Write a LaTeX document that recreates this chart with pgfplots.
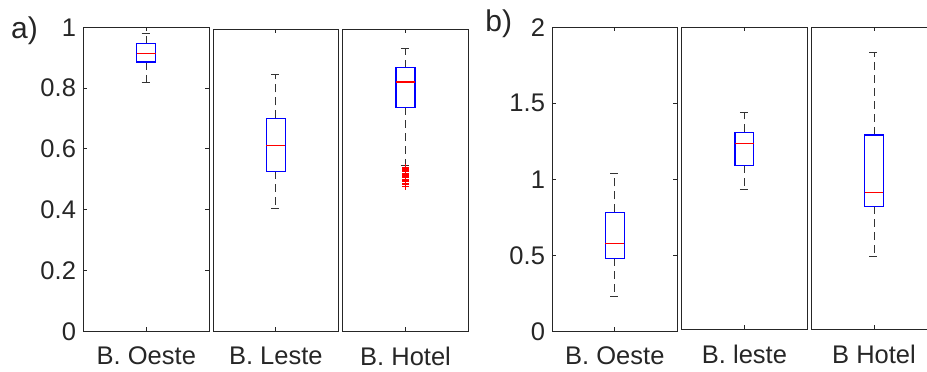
\documentclass[border=0pt]{standalone}
\usepackage{pgfplots}
\pgfplotsset{compat=1.18}
\usepgfplotslibrary{statistics}
\usepackage{fontspec}
\setmainfont{Liberation Sans}
\definecolor{txt}{HTML}{262626}
\definecolor{axc}{HTML}{262626}
\definecolor{wsk}{HTML}{333333}
\pgfplotsset{
  bx/.style={
    scale only axis, anchor=south west,
    xmin=0.5, xmax=1.5, ymin=0,
    xtick={1}, xticklabels={#1},
    axis line style={axc, line width=0.5pt},
    tick style={axc, line width=0.5pt},
    major tick length=2pt,
    tick align=inside,
    tick pos=both,
    tick label style={font=\fontsize{12.75}{15}\selectfont, text=txt, /pgf/number format/assume math mode=true},
    xticklabel style={inner sep=0pt, yshift=-7.7pt},
    yticklabel style={inner sep=0pt, xshift=-3.5pt},
    boxplot/draw direction=y,
    boxplot/box extend=0.15,
    boxplot/whisker extend=0.075,
    boxplot/every box/.style={draw=blue, line width=0.6pt},
    boxplot/every median/.style={draw=red, line width=0.7pt},
    boxplot/every whisker/.style={draw=wsk, line width=0.5pt, dash pattern=on 4pt off 2.5pt},
    clip=false,
  },
  bp/.style={blue, mark=+, mark size=1.75pt, mark options={draw=red, solid, line width=0.5pt}},
}
\begin{document}
\begin{tikzpicture}
\useasboundingbox (0,0) rectangle (463.5pt,185.5pt);
% ---- a) ----
\node[anchor=base west, inner sep=0pt, text=txt, font=\fontsize{15}{18}\selectfont] at (5.35pt,166.35pt) {a)};
\begin{axis}[bx={B. Oeste}, at={(41.67pt,19.85pt)}, width=63pt, height=152pt, ymax=1,
  ytick={0,0.2,0.4,0.6,0.8,1}]
\addplot[bp, boxplot prepared={draw position=1, lower whisker=0.819, lower quartile=0.886, median=0.914, upper quartile=0.946, upper whisker=0.978}] coordinates {};
\end{axis}
\begin{axis}[bx={B. Leste}, at={(106.67pt,19.85pt)}, width=62.5pt, height=151pt, ymax=1, ytick=\empty]
\addplot[bp, boxplot prepared={draw position=1, lower whisker=0.406, lower quartile=0.530, median=0.615, upper quartile=0.705, upper whisker=0.850}] coordinates {};
\end{axis}
\begin{axis}[bx={B. Hotel}, at={(171.17pt,19.85pt)}, width=63.2pt, height=151pt, ymax=1, ytick=\empty]
\addplot[bp, boxplot prepared={draw position=1, lower whisker=0.548, lower quartile=0.742, median=0.826, upper quartile=0.873, upper whisker=0.937}]
  table[row sep=\\, y index=0] {data\\ 0.480\\ 0.486\\ 0.491\\ 0.496\\ 0.500\\ 0.504\\ 0.508\\ 0.512\\ 0.516\\ 0.520\\ 0.524\\ 0.528\\ 0.532\\ 0.536\\ 0.540\\ 0.544\\};
\end{axis}
% ---- b) ----
\node[anchor=base west, inner sep=0pt, text=txt, font=\fontsize{15}{18}\selectfont] at (242.5pt,169.65pt) {b)};
\begin{axis}[bx={B. Oeste}, at={(276.17pt,19.85pt)}, width=62.5pt, height=152pt, ymax=2,
  ytick={0,0.5,1,1.5,2}]
\addplot[bp, boxplot prepared={draw position=1, lower whisker=0.230, lower quartile=0.480, median=0.576, upper quartile=0.783, upper whisker=1.037}] coordinates {};
\end{axis}
\begin{axis}[bx={B. leste}, at={(340.83pt,20.85pt)}, width=62.8pt, height=151pt, ymax=2, ytick=\empty]
\addplot[bp, boxplot prepared={draw position=1, lower whisker=0.929, lower quartile=1.086, median=1.229, upper quartile=1.305, upper whisker=1.439}] coordinates {};
\end{axis}
\begin{axis}[bx={B Hotel}, at={(405.67pt,20.85pt)}, width=62.7pt, height=151pt, ymax=2, ytick=\empty]
\addplot[bp, boxplot prepared={draw position=1, lower whisker=0.481, lower quartile=0.815, median=0.907, upper quartile=1.287, upper whisker=1.830}] coordinates {};
\end{axis}
\end{tikzpicture}
\end{document}
